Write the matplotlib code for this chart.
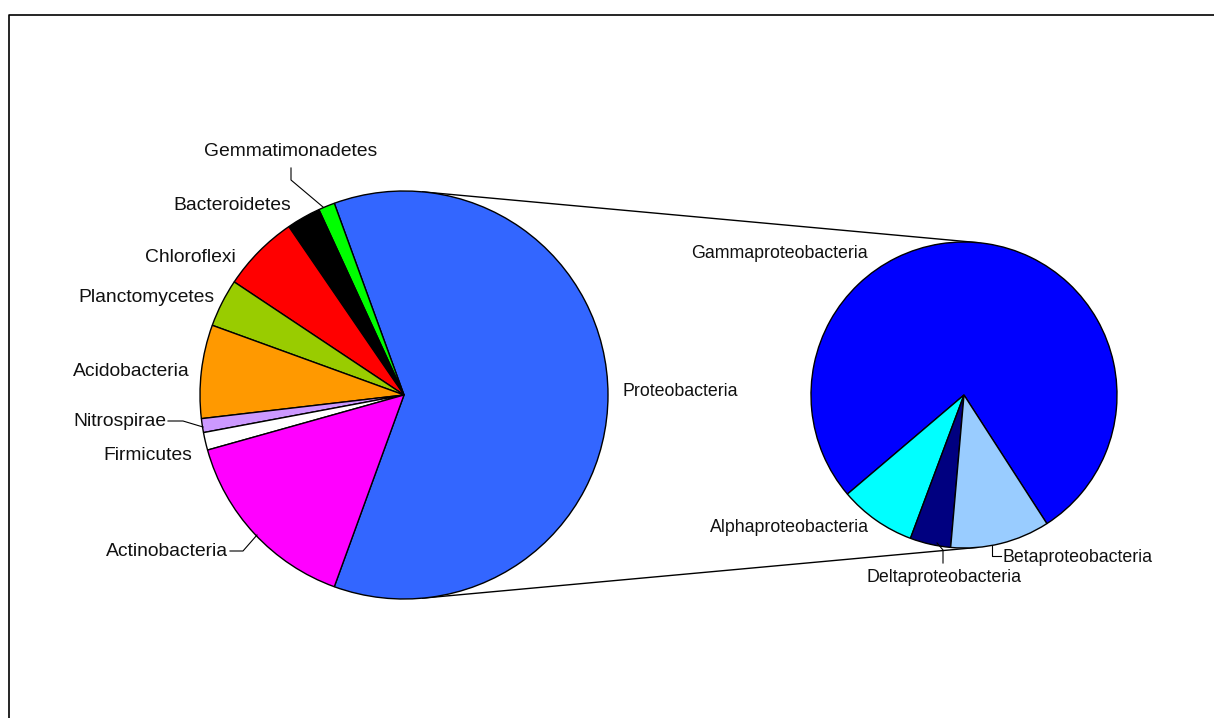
"""Pie-of-pie: phylum composition with Proteobacteria split into classes."""
import matplotlib
matplotlib.use("Agg")
import matplotlib.pyplot as plt
import numpy as np

W, H = 1214, 718

main_labels = ["Proteobacteria", "Gemmatimonadetes", "Bacteroidetes", "Chloroflexi",
               "Planctomycetes", "Acidobacteria", "Nitrospirae", "Firmicutes",
               "Actinobacteria"]
main_values = [61.1, 1.3, 2.7, 6.1, 3.8, 7.4, 1.1, 1.4, 15.1]
main_colors = ["#3366FF", "#00FF00", "#000000", "#FF0000", "#99CC00",
               "#FF9900", "#CC99FF", "#FFFFFF", "#FF00FF"]

sub_labels = ["Gammaproteobacteria", "Alphaproteobacteria", "Deltaproteobacteria",
              "Betaproteobacteria"]
sub_values = [77.1, 8.1, 4.3, 10.5]
sub_colors = ["#0000FF", "#00FFFF", "#000080", "#99CCFF"]

# layout in pixel units (y measured from top)
MAIN_C, MAIN_R = (404, 395), 204
SUB_C, SUB_R = (964, 395), 153
SUB_START = -57.2

# label text: (x, y, ha, fontsize), optional leader polyline
label_pos = {
    "Proteobacteria": (622, 391, "left", 12.8),
    "Gemmatimonadetes": (291, 152, "center", 13.9),
    "Bacteroidetes": (291, 205, "right", 13.9),
    "Chloroflexi": (236, 257, "right", 13.9),
    "Planctomycetes": (215, 297, "right", 13.9),
    "Acidobacteria": (190, 372, "right", 13.9),
    "Nitrospirae": (166, 421, "right", 13.9),
    "Firmicutes": (192, 455, "right", 13.9),
    "Actinobacteria": (228, 551, "right", 13.9),
    "Gammaproteobacteria": (868, 253, "right", 12.8),
    "Alphaproteobacteria": (869, 528, "right", 12.8),
    "Deltaproteobacteria": (944, 577, "center", 12.8),
    "Betaproteobacteria": (1003, 557, "left", 12.8),
}
leaders = {
    "Gemmatimonadetes": [(291, 168), (291, 180), (323, 207)],
    "Nitrospirae": [(168, 421), (183, 421), (203, 427)],
    "Actinobacteria": [(230, 551), (243, 551), (257, 535)],
    "Deltaproteobacteria": [(943, 563), (943, 550), (937, 543)],
    "Betaproteobacteria": [(1001, 556), (992, 556), (992, 546)],
}


def px(x, y):
    return x, H - y


plt.rcParams["font.family"] = ["Liberation Sans", "DejaVu Sans"]
fig = plt.figure(figsize=(W / 100, H / 100), dpi=100)
ax = fig.add_axes([0, 0, 1, 1])

wedge_kw = dict(edgecolor="black", linewidth=1.0)
main_start = -main_values[0] / sum(main_values) * 360 / 2
ax.pie(main_values, colors=main_colors, center=px(*MAIN_C), radius=MAIN_R,
       startangle=main_start, counterclock=True, wedgeprops=wedge_kw)
ax.pie(sub_values, colors=sub_colors, center=px(*SUB_C), radius=SUB_R,
       startangle=SUB_START, counterclock=True, wedgeprops=wedge_kw)

# connector lines: external common tangents of the two circles
(x1, y1), (x2, y2) = px(*MAIN_C), px(*SUB_C)
th = np.arcsin((MAIN_R - SUB_R) / (x2 - x1))
for s in (1, -1):
    nx, ny = np.sin(th), s * np.cos(th)
    ax.plot([x1 + MAIN_R * nx, x2 + SUB_R * nx], [y1 + MAIN_R * ny, y2 + SUB_R * ny],
            color="black", lw=1.0, zorder=0)

for name, (x, y, ha, fs) in label_pos.items():
    ax.text(*px(x, y), name, ha=ha, va="center", fontsize=fs, color="#111111")
for name, pts in leaders.items():
    xs, ys = zip(*[px(*p) for p in pts])
    ax.plot(xs, ys, color="black", lw=0.8)

# chart-area border (right and bottom edges lie outside the image)
ax.plot([9, 9, W + 5], [-5, H - 15, H - 15], color="black", lw=1.2)

ax.set_xlim(0, W)
ax.set_ylim(0, H)
ax.set_aspect("equal")
ax.set_axis_off()
fig.savefig("out.png", dpi=100)
